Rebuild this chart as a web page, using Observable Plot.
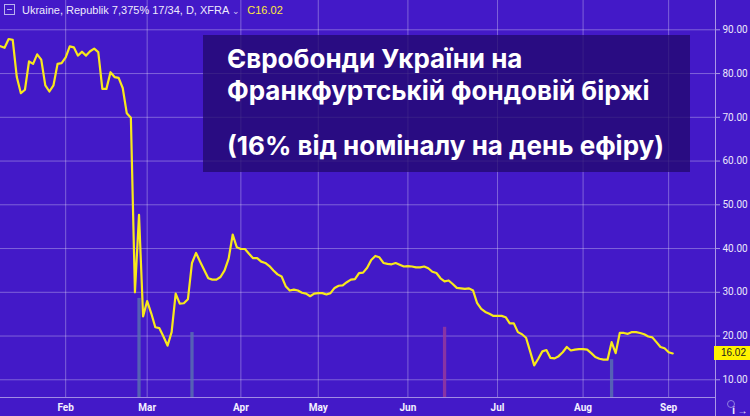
<!DOCTYPE html>
<html><head><meta charset="utf-8">
<script src="https://cdn.jsdelivr.net/npm/d3@7"></script>
<script src="https://cdn.jsdelivr.net/npm/@observablehq/plot@0.6"></script>
<style>
html,body{margin:0;padding:0;background:#4319c8;}
#wrap{position:relative;width:750px;height:416px;overflow:hidden;background:#4319c8;}
#legend{position:absolute;left:4px;top:4px;font:11px "Liberation Sans",Roboto,sans-serif;color:#eeeafc;white-space:nowrap;}
#legend .ic{display:inline-block;width:9px;height:9px;border:1px solid #b9b0ee;margin-right:7px;vertical-align:-1px;position:relative;}
#legend .ic:after{content:"";position:absolute;left:2px;right:2px;top:4px;height:1px;background:#b9b0ee;}
#legend .c{color:#ffe93a;margin-left:7px;}
#titlebox{position:absolute;left:203px;top:35px;width:487px;height:137px;background:rgba(33,8,108,0.76);}
#titlebox div{position:absolute;left:24px;font:700 26px Inter,"Noto Sans",sans-serif;color:#fff;white-space:nowrap;line-height:31px;}
#lastlab{position:absolute;left:714px;height:14px;background:#fff200;color:#1a1a1a;font:10px "Liberation Sans",Roboto,sans-serif;line-height:14px;text-align:right;}
#axisline{position:absolute;top:0;width:1px;height:416px;background:rgba(255,255,255,0.55);}
#gear{position:absolute;left:727px;top:400px;width:8px;height:8px;border:1px solid #8f80e0;border-radius:50%;box-sizing:border-box;}
</style></head><body><div id="wrap"></div>
<script>
// Daily closing prices (% of face value), one per trading day, from mid-Jan to early Sep
const prices = [86.25,85.9,87.9,87.7,79.2,75.5,76.3,82.8,82.2,84.4,83.2,77.3,75.9,77.3,82.2,82.4,83.7,86.2,86.0,84.1,
85.0,84.1,85.1,85.7,84.9,76.5,76.5,80.3,79.2,79.0,76.7,70.9,69.9,30.0,47.7,24.5,28.0,25.2,22.0,21.8,
19.9,17.8,20.9,29.7,27.4,27.5,28.4,36.7,39.0,37.0,35.1,33.2,32.9,32.9,33.5,35.0,37.7,43.2,40.3,39.9,
39.9,38.8,37.8,37.8,37.0,36.7,36.0,35.0,34.1,33.6,31.4,30.4,30.6,30.4,29.9,29.7,29.1,29.7,29.8,29.8,
29.5,29.8,31.0,31.5,31.6,32.3,32.9,33.0,34.4,34.5,35.6,37.4,38.3,38.0,36.7,36.5,36.4,36.7,36.3,35.9,
36.0,35.9,35.7,35.7,35.9,35.5,34.7,34.4,33.2,32.5,32.7,31.9,31.0,30.9,30.8,30.9,30.4,27.5,26.2,25.5,
25.1,24.6,24.6,24.6,24.3,22.9,22.9,20.9,20.4,19.6,16.5,13.3,14.8,16.5,16.8,15.0,14.9,15.4,16.3,17.5,
16.7,16.9,17.0,17.0,16.9,16.1,15.2,14.8,14.6,14.6,18.6,16.1,20.7,20.7,20.5,20.9,20.9,20.7,20.4,19.9,
19.7,18.6,17.5,17.2,16.3,16.02];
const monthLabels = ["Feb","Mar","Apr","May","Jun","Jul","Aug","Sep"];
const monthStartIndex = [16,36,59,78,100,122,143,164];
const yTicks = [10,20,30,40,50,60,70,80,90];
// volume spikes (shown in price-axis units at the bottom of the pane)
const volumeIndex = [34,47,109,150];
const volumeTop = [28.6,20.8,22.0,14.6];
const volumeColor = ["#5a72b0","#5a72b0","#9a3a9c","#5a72b0"];
const lastValue = 16.02;
const titleLines = ["Євробонди України на","Франкфуртській фондовій біржі","(16% від номіналу на день ефіру)"];
const legendText = "Ukraine, Republik 7,375% 17/34, D, XFRA";
const legendClose = "C16.02";

const yDomain = [5.95, 96.7];
const xDomain = [0, 175.5];

const series = prices.map((v,i)=>({i, v}));
const vols = volumeIndex.map((i,k)=>({i, top: volumeTop[k], c: volumeColor[k]}));
const monthName = new Map(monthStartIndex.map((d,k)=>[d, monthLabels[k]]));

const plot = Plot.plot({
  width: 750, height: 416,
  marginLeft: 0, marginRight: 35, marginTop: 0, marginBottom: 19,
  style: {background: "#4319c8", color: "#ece8fb", fontFamily: "Roboto, 'Liberation Sans', sans-serif", overflow: "visible"},
  x: {domain: xDomain, axis: null},
  y: {domain: yDomain, axis: null},
  marks: [
    Plot.gridY(yTicks, {stroke: "#ffffff", strokeOpacity: 0.32, strokeWidth: 1}),
    Plot.gridX(monthStartIndex, {stroke: "#ffffff", strokeOpacity: 0.32, strokeWidth: 1}),
    Plot.ruleY([yDomain[0]], {stroke: "#ffffff", strokeOpacity: 0.5}),
    Plot.ruleX(vols, {x: "i", y1: yDomain[0], y2: "top", stroke: "c", strokeWidth: 3.3, strokeOpacity: 0.8}),
    Plot.axisY(yTicks, {anchor: "right", tickSize: 4, tickPadding: 3, stroke: "#ffffff", strokeOpacity: 0.55,
      tickFormat: d => d.toFixed(2), fontSize: 10, fill: "#ece8fb"}),
    Plot.axisX(monthStartIndex, {anchor: "bottom", tickSize: 0, tickPadding: 6,
      tickFormat: d => monthName.get(d), fontSize: 10, fontWeight: "bold", fill: "#f3f0ff"}),
    Plot.line(series, {x: "i", y: "v", stroke: "#f8e81c", strokeWidth: 2.2, strokeLinejoin: "round"})
  ]
});

const wrap = document.getElementById("wrap");
wrap.appendChild(plot);
plot.style.position = "absolute"; plot.style.left = "0"; plot.style.top = "0";

const xs = plot.scale("x"), ys = plot.scale("y");

const axisLine = document.createElement("div");
axisLine.id = "axisline";
axisLine.style.left = (Math.round(xs.apply(xDomain[1]))) + "px";
wrap.appendChild(axisLine);

const legend = document.createElement("div");
legend.id = "legend";
legend.innerHTML = `<span class="ic"></span>${legendText}<span style="color:#cfc6f5;font-size:9px;margin-left:3px">&#8964;</span><span class="c">${legendClose}</span>`;
wrap.appendChild(legend);

const tb = document.createElement("div");
tb.id = "titlebox";
const tops = [8, 40, 95];
titleLines.forEach((t,k)=>{ const d=document.createElement("div"); d.textContent=t; d.style.top=tops[k]+"px"; tb.appendChild(d); });
wrap.appendChild(tb);

const lab = document.createElement("div");
lab.id = "lastlab";
lab.textContent = lastValue.toFixed(2);
lab.style.top = (ys.apply(lastValue) - 7) + "px";
lab.style.paddingRight = "4px"; lab.style.width = "32px";
wrap.appendChild(lab);

const gear = document.createElement("div");
gear.id = "gear";
wrap.appendChild(gear);
</script></body></html>
